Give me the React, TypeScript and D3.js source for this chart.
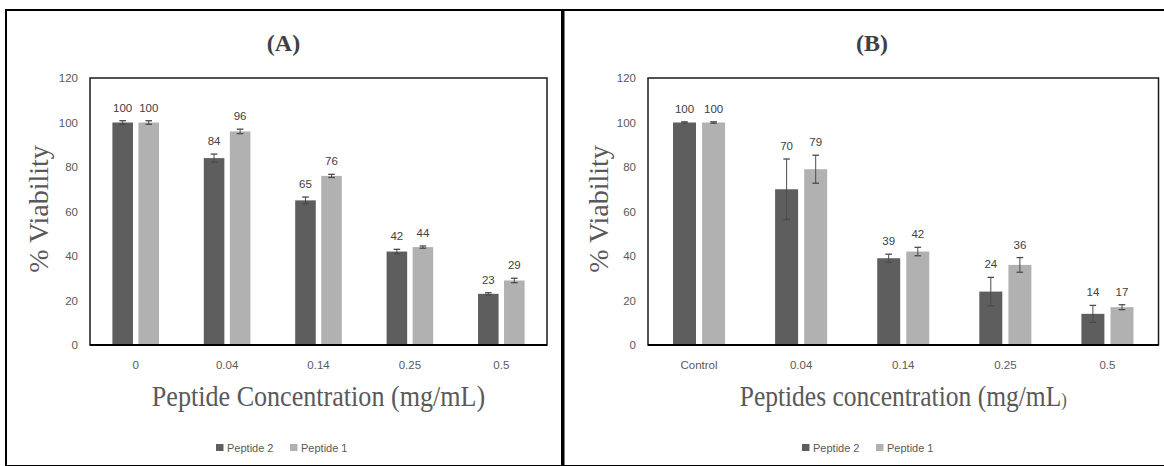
import React from "react";
import * as d3 from "d3";

const categoriesA = ["0", "0.04", "0.14", "0.25", "0.5"];
const categoriesB = ["Control", "0.04", "0.14", "0.25", "0.5"];
const seriesNames = ["Peptide 2", "Peptide 1"];
const seriesColors = ["#5e5e5e", "#b1b1b1"];

const peptide2A = [100, 84, 65, 42, 23];
const peptide1A = [100, 96, 76, 44, 29];
const peptide2AErr = [0.8, 1.8, 1.5, 1.0, 0.5];
const peptide1AErr = [0.8, 1.0, 0.7, 0.5, 1.0];

const peptide2B = [100, 70, 39, 24, 14];
const peptide1B = [100, 79, 42, 36, 17];
const peptide2BErr = [0.3, 13.6, 1.8, 6.4, 3.8];
const peptide1BErr = [0.3, 6.3, 1.9, 3.3, 1.1];

const yTicks = [0, 20, 40, 60, 80, 100, 120];

const SANS = "'Liberation Sans', Arial, sans-serif";
const SERIF = "'Liberation Serif', 'Times New Roman', serif";
const TEXT_GRAY = "#595959";

type PanelProps = {
  title: string;
  titleX: number;
  categories: string[];
  values: number[][];
  errors: number[][];
  plotLeft: number;
  plotRight: number;
  yTitleX: number;
  xTitle: string;
  xTitleScale: number;
  xTitleSuffix?: string;
  legendCenter: number;
};

function Panel(p: PanelProps) {
  const top = 78;
  const bottom = 345;
  const y = d3.scaleLinear().domain([0, 120]).range([bottom, top]);
  const x0 = d3.scaleBand<string>().domain(p.categories).range([p.plotLeft, p.plotRight]).padding(0);
  const groupW = x0.bandwidth() * 0.51;
  const x1 = d3.scaleBand<string>().domain(seriesNames).range([0, groupW]).paddingInner(0.21).paddingOuter(0);
  const bw = x1.bandwidth();
  const plotCenter = (p.plotLeft + p.plotRight) / 2;

  const legItemW = 74;
  const legStart = p.legendCenter - (legItemW * 2 - 8) / 2;

  return (
    <g>
      <text x={p.titleX} y={51} textAnchor="middle" fontFamily={SERIF} fontWeight="bold" fontSize={24} fill="#404040">
        {p.title}
      </text>
      {yTicks.map((t) => (
        <text key={t} x={p.plotLeft - 12} y={y(t) + 4} textAnchor="end" fontFamily={SANS} fontSize={11.5} fill={TEXT_GRAY}>
          {t}
        </text>
      ))}
      {p.categories.map((c, ci) => {
        const gx = (x0(c) as number) + (x0.bandwidth() - groupW) / 2;
        return (
          <g key={c}>
            {seriesNames.map((s, si) => {
              const v = p.values[si][ci];
              const e = p.errors[si][ci];
              const bx = gx + (x1(s) as number);
              const cx = bx + bw / 2;
              return (
                <g key={s}>
                  <rect x={bx} y={y(v)} width={bw} height={y(0) - y(v)} fill={seriesColors[si]} />
                  <line x1={cx} x2={cx} y1={y(v + e)} y2={y(v - e)} stroke="#4a4a4a" strokeWidth={1} />
                  <line x1={cx - 3.3} x2={cx + 3.3} y1={y(v + e)} y2={y(v + e)} stroke="#4a4a4a" strokeWidth={1.3} />
                  <line x1={cx - 3.3} x2={cx + 3.3} y1={y(v - e)} y2={y(v - e)} stroke="#4a4a4a" strokeWidth={1.3} />
                  <text x={cx} y={y(v + e) - 9} textAnchor="middle" fontFamily={SANS} fontSize={11.5} fill="#404040">
                    {v}
                  </text>
                </g>
              );
            })}
            <text x={(x0(c) as number) + x0.bandwidth() / 2} y={369} textAnchor="middle" fontFamily={SANS} fontSize={11.5} fill={TEXT_GRAY}>
              {c}
            </text>
          </g>
        );
      })}
      <rect x={p.plotLeft} y={top} width={p.plotRight - p.plotLeft} height={bottom - top} fill="none" stroke="#1a1a1a" strokeWidth={1.5} />
      <line x1={p.plotLeft} x2={p.plotRight} y1={bottom} y2={bottom} stroke="#000" strokeWidth={2} />
      <text
        transform={`translate(${p.yTitleX},209) rotate(-90)`}
        textAnchor="middle"
        fontFamily={SERIF}
        fontSize={28}
        fill={TEXT_GRAY}
      >
        % Viability
      </text>
      <g transform={`translate(${plotCenter},406) scale(${p.xTitleScale},1)`}>
        <text x={0} y={0} textAnchor="middle" fontFamily={SERIF} fontSize={29} fill={TEXT_GRAY}>
          {p.xTitle}
          {p.xTitleSuffix ? <tspan fontSize={19}>{p.xTitleSuffix}</tspan> : null}
        </text>
      </g>
      {seriesNames.map((s, si) => (
        <g key={s}>
          <rect x={legStart + si * legItemW} y={444} width={7.5} height={7} fill={seriesColors[si]} />
          <text x={legStart + si * legItemW + 11} y={451.5} fontFamily={SANS} fontSize={11} fill={TEXT_GRAY}>
            {s}
          </text>
        </g>
      ))}
    </g>
  );
}

export default function App() {
  return (
    <svg width={1164} height={466} style={{ position: "absolute", left: 0, top: 0, background: "#fff" }}>
      <rect x={0} y={0} width={1164} height={466} fill="#fff" />
      <rect x={6} y={10} width={556} height={456} fill="none" stroke="#000" strokeWidth={2} />
      <rect x={563.5} y={10} width={640} height={456} fill="none" stroke="#000" strokeWidth={2} />
      <Panel
        title="(A)"
        titleX={283.5}
        categories={categoriesA}
        values={[peptide2A, peptide1A]}
        errors={[peptide2AErr, peptide1AErr]}
        plotLeft={90}
        plotRight={547}
        yTitleX={48}
        xTitle="Peptide Concentration (mg/mL)"
        xTitleScale={0.9}
        legendCenter={286}
      />
      <Panel
        title="(B)"
        titleX={872}
        categories={categoriesB}
        values={[peptide2B, peptide1B]}
        errors={[peptide2BErr, peptide1BErr]}
        plotLeft={648}
        plotRight={1158.5}
        yTitleX={608}
        xTitle="Peptides concentration (mg/mL"
        xTitleScale={0.88}
        xTitleSuffix=")"
        legendCenter={872}
      />
    </svg>
  );
}
